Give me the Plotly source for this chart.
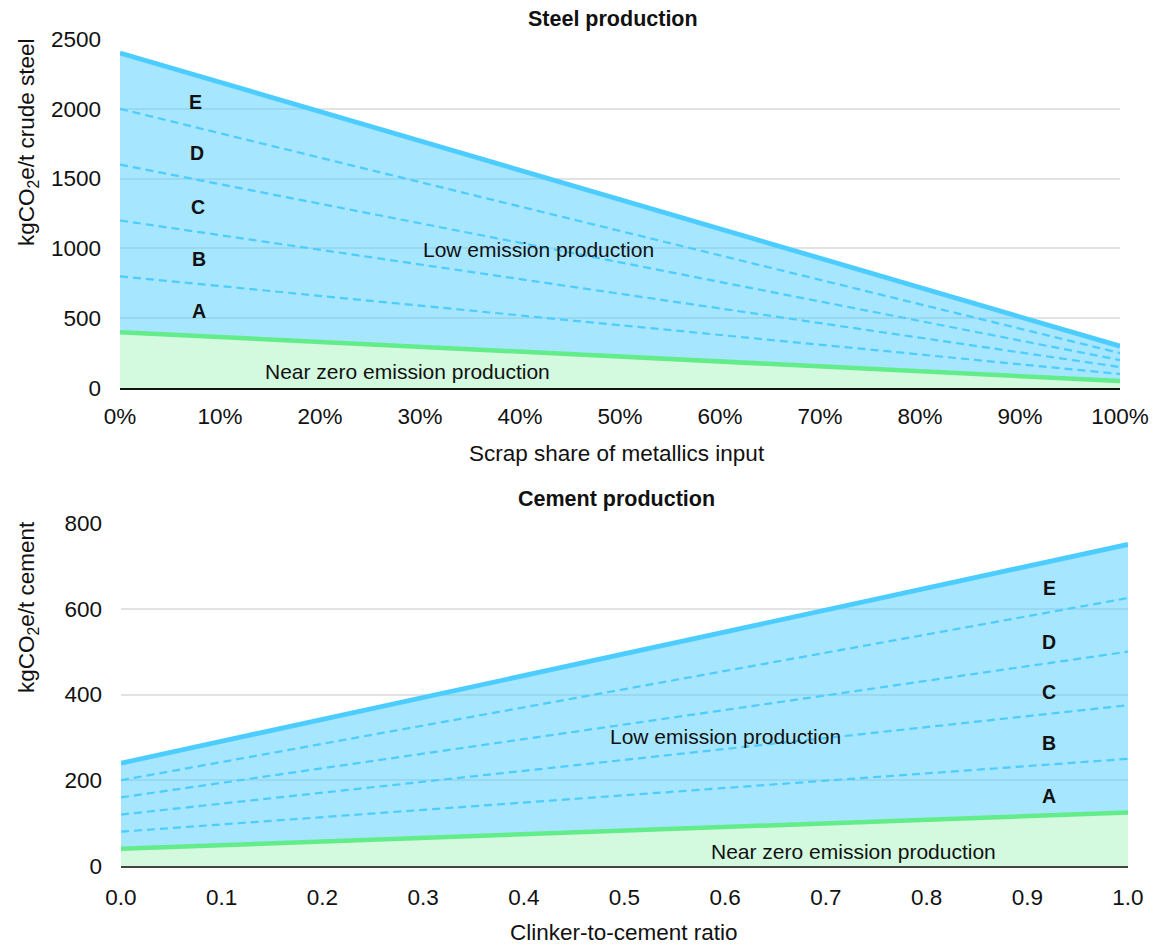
import plotly.graph_objects as go

# ---------------- data ----------------
steel_scrap_share = [0, 100]            # %
steel_near_zero = [400, 50]             # kgCO2e/t crude steel
steel_upper = [2400, 300]
steel_bounds = {
    "A/B": [800, 100],
    "B/C": [1200, 150],
    "C/D": [1600, 200],
    "D/E": [2000, 250],
}

cement_clinker_ratio = [0.0, 1.0]
cement_near_zero = [40, 125]            # kgCO2e/t cement
cement_upper = [240, 750]
cement_bounds = {
    "A/B": [80, 250],
    "B/C": [120, 375],
    "C/D": [160, 500],
    "D/E": [200, 625],
}

band_letters = ["A", "B", "C", "D", "E"]

# ---------------- styles ----------------
BLUE = "#4DCDFF"
BLUE_FILL = "rgba(77,205,255,0.5)"
GREEN = "#62EC8A"
GREEN_FILL = "rgba(110,235,145,0.3)"
FONT = "Liberation Sans, Arial, sans-serif"
W, H = 1154, 946

fig = go.Figure()


def add_panel(x, nz, up, bounds, xa, ya):
    fig.add_trace(go.Scatter(x=x, y=nz, mode="lines", line=dict(width=0, color=GREEN),
                             fill="tozeroy", fillcolor=GREEN_FILL, xaxis=xa, yaxis=ya,
                             hoverinfo="skip", showlegend=False))
    fig.add_trace(go.Scatter(x=x, y=up, mode="lines", line=dict(width=0, color=BLUE),
                             fill="tonexty", fillcolor=BLUE_FILL, xaxis=xa, yaxis=ya,
                             hoverinfo="skip", showlegend=False))
    for name, vals in bounds.items():
        fig.add_trace(go.Scatter(x=x, y=vals, mode="lines",
                                 line=dict(width=2.2, color=BLUE, dash="8px,5px"),
                                 xaxis=xa, yaxis=ya, name=name, showlegend=False))
    fig.add_trace(go.Scatter(x=x, y=nz, mode="lines", line=dict(width=4.5, color=GREEN),
                             xaxis=xa, yaxis=ya, showlegend=False))
    fig.add_trace(go.Scatter(x=x, y=up, mode="lines", line=dict(width=4.8, color=BLUE),
                             xaxis=xa, yaxis=ya, showlegend=False))


add_panel(steel_scrap_share, steel_near_zero, steel_upper, steel_bounds, "x", "y")
add_panel(cement_clinker_ratio, cement_near_zero, cement_upper, cement_bounds, "x2", "y2")

# domains in pixel terms
def fx(px):
    return px / W

def fy(py):
    return 1 - py / H

tick_font = dict(family=FONT, size=22.5, color="#111")
grid = dict(showgrid=True, gridcolor="#E2E2E2", gridwidth=1.5, zeroline=False)

fig.update_layout(
    template="none",
    width=W, height=H,
    margin=dict(l=0, r=0, t=0, b=0, pad=0),
    paper_bgcolor="white", plot_bgcolor="white",
    font=dict(family=FONT, color="#111"),
    showlegend=False,
    xaxis=dict(domain=[fx(120), fx(1120)], range=[0, 100], dtick=10, ticksuffix="%",
               showgrid=False, zeroline=False, showline=True, linecolor="#111", linewidth=2,
               tickfont=tick_font, ticks="", ticklabelstandoff=7, anchor="y", automargin=False),
    yaxis=dict(domain=[fy(388), fy(39)], range=[0, 2500], dtick=500, tickfont=tick_font,
               ticks="", ticklabelstandoff=18, anchor="x", automargin=False, **grid),
    xaxis2=dict(domain=[fx(121), fx(1128)], range=[0, 1], dtick=0.1, tickformat=".1f",
                showgrid=False, zeroline=False, showline=True, linecolor="#444", linewidth=2,
                tickfont=tick_font, ticks="", ticklabelstandoff=10, anchor="y2", automargin=False),
    yaxis2=dict(domain=[fy(866), fy(523)], range=[0, 800], dtick=200, tickfont=tick_font,
                ticks="", ticklabelstandoff=18, anchor="x2", automargin=False, **grid),
)

ann = []
def paper_text(text, x, y, size, bold=False, xanchor="center", yanchor="middle", **kw):
    t = f"<b>{text}</b>" if bold else text
    ann.append(dict(text=t, x=fx(x), y=fy(y), xref="paper", yref="paper", showarrow=False,
                    xanchor=xanchor, yanchor=yanchor,
                    font=dict(family=FONT, size=size, color="#111"), **kw))

# titles
paper_text("Steel production", 613, 19, 21.5, bold=True)
paper_text("Cement production", 616, 499, 21.5, bold=True)
# axis titles
paper_text("Scrap share of metallics input", 617, 453, 22.5)
paper_text("Clinker-to-cement ratio", 624, 932, 22.5)
paper_text("kgCO<sub>2</sub>e/t crude steel", 28, 36, 22.5, textangle=-90, yanchor="top")
paper_text("kgCO<sub>2</sub>e/t cement", 28, 519, 22.5, textangle=-90, yanchor="top")

def data_text(text, x, y, xa, ya, size, bold=False):
    t = f"<b>{text}</b>" if bold else text
    ann.append(dict(text=t, x=x, y=y, xref=xa, yref=ya, showarrow=False,
                    xanchor="center", yanchor="middle",
                    font=dict(family=FONT, size=size, color="#111")))

# steel band labels
for letter, xv, yv in zip(band_letters, [7.9, 7.9, 7.8, 7.7, 7.5], [552, 924, 1297, 1683, 2049]):
    data_text(letter, xv, yv, "x", "y", 19.5, bold=True)
data_text("Low emission production", 41.8, 990, "x", "y", 21)
data_text("Near zero emission production", 28.7, 120, "x", "y", 21)

# cement band labels
for letter, yv in zip(band_letters, [163, 287, 406, 522, 648]):
    data_text(letter, 0.922, yv, "x2", "y2", 19.5, bold=True)
data_text("Low emission production", 0.6, 301, "x2", "y2", 21)
data_text("Near zero emission production", 0.727, 33, "x2", "y2", 21)

fig.update_layout(annotations=ann)

fig.write_html("out.html", config={"displayModeBar": False},
               post_script="document.body.style.margin='0';")
